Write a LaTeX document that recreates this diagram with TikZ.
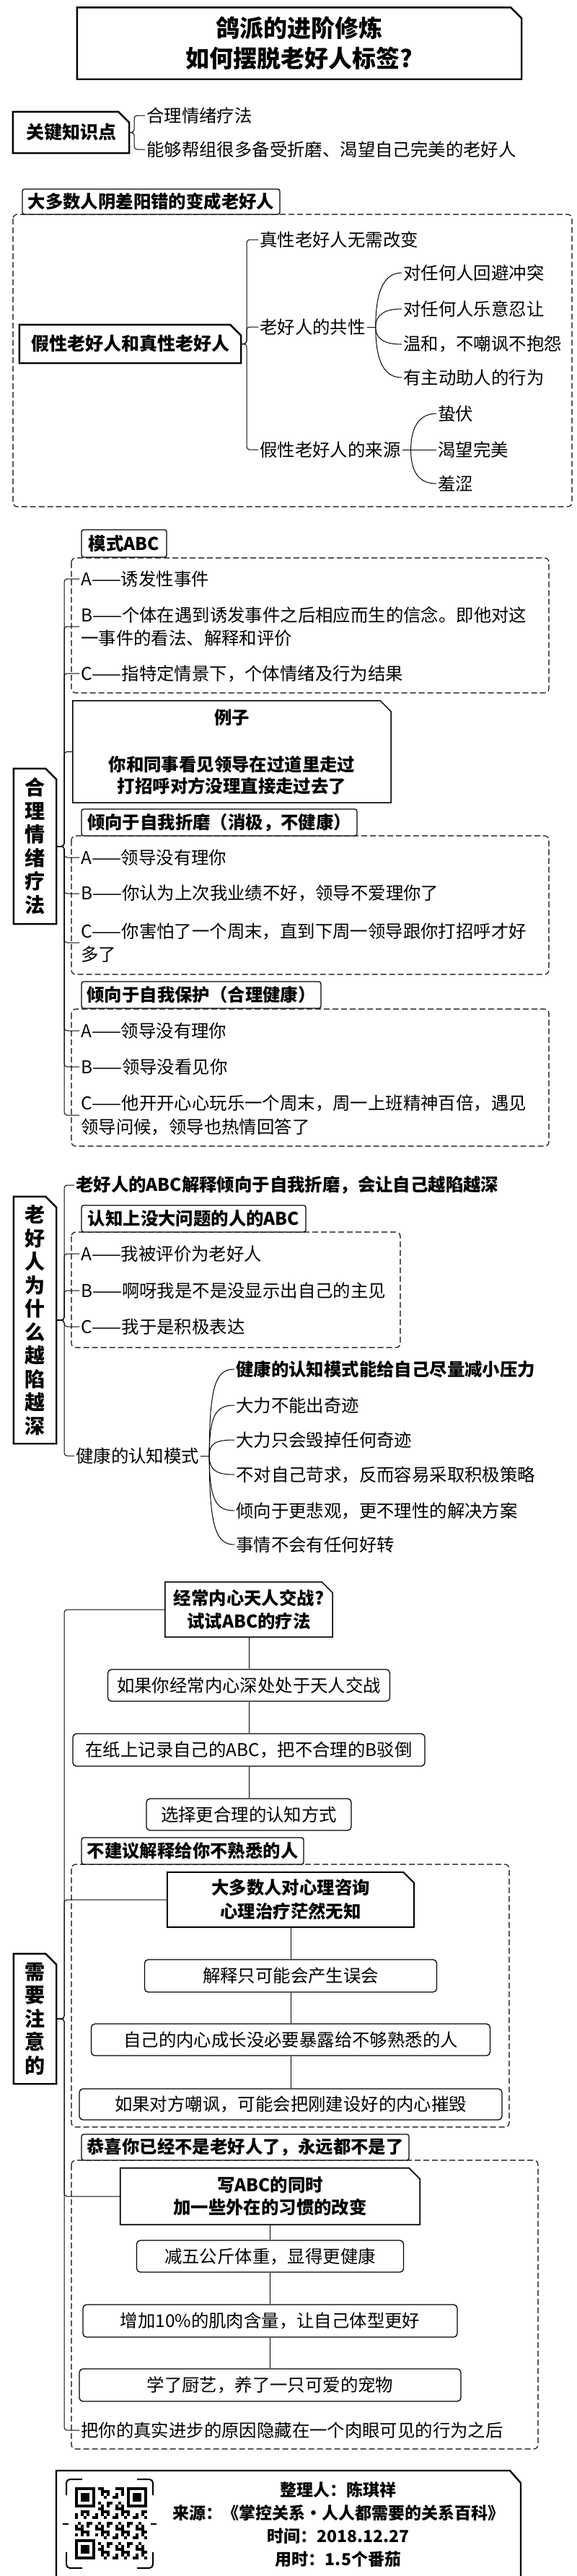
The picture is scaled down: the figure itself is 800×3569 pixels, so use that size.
\documentclass[tikz,border=0pt]{standalone}
\usepackage{fontspec}
\setmainfont{Noto Sans CJK SC}
\newcommand\cutbox[2][1.5pt]{\draw[line width=#1] (#2.south west) -- (#2.north west) -- ([xshift=-15pt]#2.north east) -- ([yshift=-15pt]#2.north east) -- (#2.south east) -- cycle;}

\begin{document}
\begin{tikzpicture}[x=1pt,y=-1pt,
  leaf/.style={anchor=west,inner sep=2pt,align=left,font=\fontsize{24.4}{32.5}\selectfont},
  bleaf/.style={leaf,font=\bfseries\fontsize{24.4}{32.5}\selectfont},
  topic/.style={inner sep=0pt,align=center,font=\bfseries\fontsize{25}{33}\selectfont},
  vtopic/.style={topic,font=\bfseries\fontsize{28}{32.5}\selectfont},
  panel/.style={inner sep=0pt,align=center,font=\bfseries\fontsize{24.4}{32}\selectfont},
  head/.style={draw,fill=white,line width=1.3pt,rounded corners=3pt,inner sep=0pt,font=\bfseries\fontsize{24.4}{32}\selectfont},
  card/.style={draw,fill=white,line width=1.3pt,rounded corners=5pt,inner sep=0pt,font=\fontsize{24.4}{32}\selectfont},
  dashbox/.style={draw,line width=1.1pt,dash pattern=on 8pt off 4pt,rounded corners=6pt},
  link/.style={line width=1pt,rounded corners=4pt}]

  \path[use as bounding box,fill=white] (0,0) rectangle (800,3569);

  \node[topic,minimum width=616pt,minimum height=99pt,font=\bfseries\fontsize{33}{42}\selectfont] (title) at (415,60) {鸽派的进阶修炼\\如何摆脱老好人标签?};
  \cutbox[2.4pt]{title}

  \node[topic,minimum width=161pt,minimum height=57pt] (kp) at (98.5,183.5) {关键知识点};
  \cutbox[2.4pt]{kp}
  \node[leaf] (kp_1) at (201,160) {合理情绪疗法};
  \node[leaf] (kp_2) at (201,207) {能够帮组很多备受折磨、渴望自己完美的老好人};
  \coordinate (sp_0) at (186,0);
  \foreach \nd in {kp_1,kp_2} \draw[link] (kp.east) -| (sp_0 |- \nd.west) -- (\nd.west);

  \draw[dashbox] (18,297) rectangle (793,702);
  \node[head,minimum width=357pt,minimum height=35pt] (grp_0) at (209.5,279.5) {大多数人阴差阳错的变成老好人};
  \node[topic,minimum width=307pt,minimum height=53pt] (fake) at (180.5,476.5) {假性老好人和真性老好人};
  \cutbox[2.4pt]{fake}
  \node[leaf] (real) at (358,332) {真性老好人无需改变};
  \node[leaf] (common) at (358,453) {老好人的共性};
  \node[leaf] (source) at (358,623) {假性老好人的来源};
  \coordinate (sp_1) at (342,0);
  \foreach \nd in {real,common,source} \draw[link] (fake.east) -| (sp_1 |- \nd.west) -- (\nd.west);

  \node[leaf] (com_1) at (557,378) {对任何人回避冲突};
  \node[leaf] (com_2) at (557,428) {对任何人乐意忍让};
  \node[leaf] (com_3) at (557,477) {温和，不嘲讽不抱怨};
  \node[leaf] (com_4) at (557,523) {有主动助人的行为};
  \draw[link] (common.east) -- ++(12,0) coordinate (fan_1);
  \foreach \nd/\d in {com_1/-55,com_2/-18,com_3/18,com_4/52}
    \draw[link] (fan_1) .. controls +(0,\d) and +(-22,0) .. (\nd.west);

  \node[leaf] (src_1) at (605,573) {蛰伏};
  \node[leaf] (src_2) at (605,623) {渴望完美};
  \node[leaf] (src_3) at (605,670) {羞涩};
  \draw[link] (source.east) -- ++(12,0) coordinate (fan_2);
  \draw[link] (fan_2) -- (src_2.west);
  \foreach \nd/\d in {src_1/-36,src_3/36}
    \draw[link] (fan_2) .. controls +(0,\d) and +(-20,0) .. (\nd.west);

  \node[vtopic,minimum width=59pt,minimum height=215pt] (rational) at (48.5,1172.5) {合\\理\\情\\绪\\疗\\法};
  \cutbox[2.4pt]{rational}

  \draw[dashbox] (99,773) rectangle (761,960);
  \node[head,minimum width=118pt,minimum height=38pt] (grp_1) at (172,753) {模式ABC};
  \node[leaf] (abc_a) at (110,802) {A——诱发性事件};
  \node[leaf] (abc_b) at (110,868) {B——个体在遇到诱发事件之后相应而生的信念。即他对这\\一事件的看法、解释和评价};
  \node[leaf] (abc_c) at (110,933) {C——指特定情景下，个体情绪及行为结果};

  \node[panel,minimum width=441pt,minimum height=141pt,font=\bfseries\fontsize{24.4}{30}\selectfont] (example) at (321.5,1041.5) {例子\\[35pt]你和同事看见领导在过道里走过\\打招呼对方没理直接走过去了};
  \cutbox{example}

  \draw[dashbox] (99,1158) rectangle (761,1350);
  \node[head,minimum width=382pt,minimum height=37pt] (grp_2) at (304,1139.5) {倾向于自我折磨（消极，不健康）};
  \node[leaf] (neg_a) at (110,1188) {A——领导没有理你};
  \node[leaf] (neg_b) at (110,1238) {B——你认为上次我业绩不好，领导不爱理你了};
  \node[leaf] (neg_c) at (110,1306) {C——你害怕了一个周末，直到下周一领导跟你打招呼才好\\多了};

  \draw[dashbox] (99,1398) rectangle (761,1588);
  \node[head,minimum width=332pt,minimum height=37pt] (grp_3) at (279,1378.5) {倾向于自我保护（合理健康）};
  \node[leaf] (pos_a) at (110,1428) {A——领导没有理你};
  \node[leaf] (pos_b) at (110,1478) {B——领导没看见你};
  \node[leaf] (pos_c) at (110,1545) {C——他开开心心玩乐一个周末，周一上班精神百倍，遇见\\领导问候，领导也热情回答了};
  \coordinate (sp_2) at (89,0);
  \foreach \nd in {abc_a,abc_b,abc_c,example,neg_a,neg_b,neg_c,pos_a,pos_b,pos_c}
    \draw[link] (rational.east) -| (sp_2 |- \nd.west) -- (\nd.west);

  \node[vtopic,minimum width=59pt,minimum height=342pt] (deep) at (48.5,1829) {老\\好\\人\\为\\什\\么\\越\\陷\\越\\深};
  \cutbox[2.4pt]{deep}
  \node[bleaf] (deep_0) at (103,1642) {老好人的ABC解释倾向于自我折磨，会让自己越陷越深};
  \draw[dashbox] (99,1707) rectangle (555,1867);
  \node[head,minimum width=311pt,minimum height=37pt] (grp_4) at (268.5,1688.5) {认知上没大问题的人的ABC};
  \node[leaf] (ok_a) at (110,1737) {A——我被评价为老好人};
  \node[leaf] (ok_b) at (110,1788) {B——啊呀我是不是没显示出自己的主见};
  \node[leaf] (ok_c) at (110,1838) {C——我于是积极表达};
  \node[leaf] (healthy) at (103,2017) {健康的认知模式};
  \coordinate (sp_3) at (89,0);
  \foreach \nd in {deep_0,ok_a,ok_b,ok_c,healthy}
    \draw[link] (deep.east) -| (sp_3 |- \nd.west) -- (\nd.west);

  \node[bleaf] (hl_1) at (325,1897) {健康的认知模式能给自己尽量减小压力};
  \node[leaf] (hl_2) at (325,1947) {大力不能出奇迹};
  \node[leaf] (hl_3) at (325,1995) {大力只会毁掉任何奇迹};
  \node[leaf] (hl_4) at (325,2043) {不对自己苛求，反而容易采取积极策略};
  \node[leaf] (hl_5) at (325,2093) {倾向于更悲观，更不理性的解决方案};
  \node[leaf] (hl_6) at (325,2140) {事情不会有任何好转};
  \draw[link] (healthy.east) -- ++(12,0) coordinate (fan_3);
  \foreach \nd/\d in {hl_1/-100,hl_2/-58,hl_3/-18,hl_4/20,hl_5/62,hl_6/100}
    \draw[link] (fan_3) .. controls +(0,\d) and +(-25,0) .. (\nd.west);

  \node[vtopic,minimum width=59pt,minimum height=180pt] (note) at (48.5,2797) {需\\要\\注\\意\\的};
  \cutbox[2.4pt]{note}

  \node[panel,minimum width=232pt,minimum height=76pt] (try) at (345,2230) {经常内心天人交战?\\试试ABC的疗法};
  \cutbox{try}
  \node[card,minimum width=391pt,minimum height=44pt] (try_1) at (345,2335) {如果你经常内心深处处于天人交战};
  \node[card,minimum width=488pt,minimum height=45pt] (try_2) at (345,2424.5) {在纸上记录自己的ABC，把不合理的B驳倒};
  \node[card,minimum width=284pt,minimum height=44pt] (try_3) at (345,2514) {选择更合理的认知方式};
  \draw[link] (try.south) -- (try_1.north);
  \draw[link] (try_1.south) -- (try_2.north);
  \draw[link] (try_2.south) -- (try_3.north);

  \draw[dashbox] (99,2583) rectangle (706,2947);
  \node[head,minimum width=308pt,minimum height=37pt] (grp_5) at (267,2564.5) {不建议解释给你不熟悉的人};
  \node[panel,minimum width=342pt,minimum height=76pt,font=\bfseries\fontsize{24.4}{33}\selectfont] (know) at (403,2632) {大多数人对心理咨询\\心理治疗茫然无知};
  \cutbox[2pt]{know}
  \node[card,minimum width=405pt,minimum height=45pt] (know_1) at (403,2737.5) {解释只可能会产生误会};
  \node[card,minimum width=553pt,minimum height=44pt] (know_2) at (403,2826) {自己的内心成长没必要暴露给不够熟悉的人};
  \node[card,minimum width=586pt,minimum height=43pt] (know_3) at (403,2915.5) {如果对方嘲讽，可能会把刚建设好的内心摧毁};
  \draw[link] (know.south) -- (know_1.north);
  \draw[link] (know_1.south) -- (know_2.north);
  \draw[link] (know_2.south) -- (know_3.north);

  \draw[dashbox] (99,2993) rectangle (746,3393);
  \node[head,minimum width=454pt,minimum height=36pt] (grp_6) at (340,2975) {恭喜你已经不是老好人了，永远都不是了};
  \node[panel,minimum width=415pt,minimum height=78pt,font=\bfseries\fontsize{24.4}{31}\selectfont] (habit) at (374.5,3043) {写ABC的同时\\加一些外在的习惯的改变};
  \cutbox[1.8pt]{habit}
  \node[card,minimum width=370pt,minimum height=44pt] (habit_1) at (374.5,3126) {减五公斤体重，显得更健康};
  \node[card,minimum width=519pt,minimum height=45pt] (habit_2) at (374.5,3215.5) {增加10\%的肌肉含量，让自己体型更好};
  \node[card,minimum width=529pt,minimum height=45pt] (habit_3) at (374.5,3304.5) {学了厨艺，养了一只可爱的宠物};
  \draw[link] (habit.south) -- (habit_1.north);
  \draw[link] (habit_1.south) -- (habit_2.north);
  \draw[link] (habit_2.south) -- (habit_3.north);
  \node[leaf] (hide) at (110,3367) {把你的真实进步的原因隐藏在一个肉眼可见的行为之后};
  \coordinate (sp_4) at (89,0);
  \foreach \nd in {try,know,habit,hide}
    \draw[link] (note.east) -| (sp_4 |- \nd.west) -- (\nd.west);

  \draw[line width=2.4pt] (78,3580) -- (78,3423) -- (707,3423) -- (722,3440) -- (722,3580);
  \node[panel,font=\bfseries\fontsize{23}{32}\selectfont] (info) at (469,3497.5) {整理人：陈琪祥\\来源：《掌控关系·人人都需要的关系百科》\\时间：2018.12.27\\用时：1.5个番茄};

  \draw[line width=2pt,rounded corners=5pt] (92,3457) |- (114,3435);
  \draw[line width=2pt,rounded corners=5pt] (190,3435) -| (212,3457);
  \draw[line width=2pt,rounded corners=5pt] (212,3536) |- (190,3558);
  \draw[line width=2pt,rounded corners=5pt] (114,3558) -| (92,3536);
  \draw[line width=1.5pt] (87,3497) -- (95,3497);
  \draw[line width=1.5pt] (209,3497) -- (217,3497);
  \foreach \i in {0,...,24}
    \foreach \j in {0,...,24} {
      \pgfmathtruncatemacro\bit{(mod(\i*\i*7+\j*\j*3+\i*\j*5+\i+\j,7)<3) && !((\i<8 && \j<8) || (\i>16 && \j<8) || (\i<8 && \j>16))}
      \ifnum\bit=1 \fill (104+\i*4,3446+\j*4) rectangle ++(4,4); \fi
    }
  \foreach \x/\y in {104/3446,176/3446,104/3518} {
    \fill (\x,\y) rectangle ++(28,28);
    \fill[white] (\x+4,\y+4) rectangle ++(20,20);
    \fill (\x+8,\y+8) rectangle ++(12,12);
  }
\end{tikzpicture}
\end{document}
